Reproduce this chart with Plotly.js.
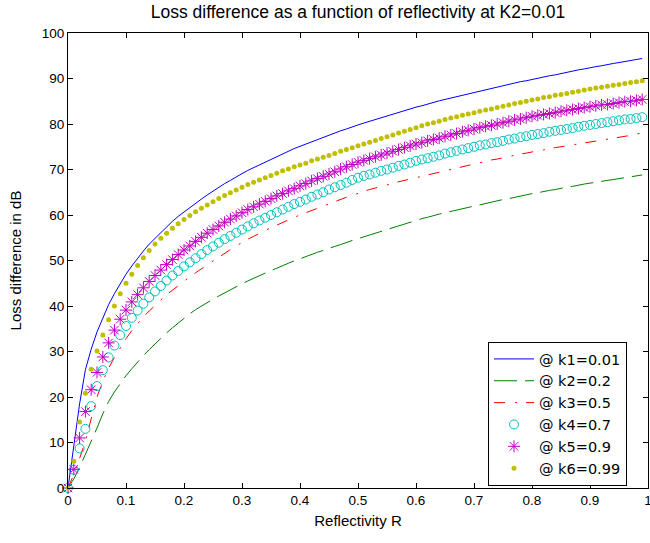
<!DOCTYPE html>
<html>
<head>
<meta charset="utf-8">
<script src="https://cdn.plot.ly/plotly-3.0.1.min.js"></script>
<style>
  html, body { margin: 0; padding: 0; background: #ffffff; }
  #chart { width: 650px; height: 543px; }
</style>
</head>
<body>
<div id="chart"></div>
<script>
// Reflectivity R (x values, step 0.01 as in the reference)
const reflectivity = [
  0.00,0.01,0.02,0.03,0.04,0.05,0.06,0.07,0.08,0.09,
  0.10,0.11,0.12,0.13,0.14,0.15,0.16,0.17,0.18,0.19,
  0.20,0.21,0.22,0.23,0.24,0.25,0.26,0.27,0.28,0.29,
  0.30,0.31,0.32,0.33,0.34,0.35,0.36,0.37,0.38,0.39,
  0.40,0.41,0.42,0.43,0.44,0.45,0.46,0.47,0.48,0.49,
  0.50,0.51,0.52,0.53,0.54,0.55,0.56,0.57,0.58,0.59,
  0.60,0.61,0.62,0.63,0.64,0.65,0.66,0.67,0.68,0.69,
  0.70,0.71,0.72,0.73,0.74,0.75,0.76,0.77,0.78,0.79,
  0.80,0.81,0.82,0.83,0.84,0.85,0.86,0.87,0.88,0.89,
  0.90,0.91,0.92,0.93,0.94,0.95,0.96,0.97,0.98,0.99
];

// Loss difference in dB
const lossK1 = [
  0,9.5,18.5,26.0,30.5,34.3,37.5,40.3,42.7,45.0,
  47.0,48.8,50.5,52.1,53.6,54.9,56.2,57.4,58.6,59.7,
  60.7,61.7,62.6,63.5,64.4,65.3,66.1,66.9,67.6,68.4,
  69.1,69.8,70.4,71.1,71.7,72.3,72.9,73.5,74.0,74.6,
  75.1,75.6,76.1,76.6,77.1,77.6,78.0,78.5,78.9,79.4,
  79.8,80.2,80.6,81.0,81.4,81.8,82.2,82.6,82.9,83.3,
  83.7,84.0,84.4,84.7,85.1,85.4,85.7,86.0,86.4,86.7,
  87.0,87.3,87.6,87.9,88.2,88.5,88.8,89.0,89.3,89.5,
  89.8,90.1,90.3,90.6,90.8,91.1,91.4,91.6,91.9,92.1,
  92.4,92.6,92.8,93.1,93.3,93.5,93.7,94.0,94.2,94.4
];
const lossK2 = [
  0,2.0,4.5,7.3,10.2,13.2,16.3,19.0,21.1,23.0,
  24.7,26.2,27.7,29.1,30.4,31.7,32.9,34.1,35.2,36.3,
  37.4,38.3,39.2,40.0,40.8,41.5,42.2,42.9,43.6,44.3,
  44.9,45.5,46.1,46.7,47.2,47.8,48.3,48.9,49.4,49.9,
  50.4,50.9,51.3,51.8,52.2,52.7,53.1,53.5,54.0,54.4,
  54.8,55.2,55.6,56.0,56.5,56.9,57.3,57.7,58.1,58.5,
  58.9,59.2,59.5,59.9,60.2,60.5,60.8,61.1,61.4,61.7,
  62.0,62.3,62.6,62.8,63.1,63.4,63.6,63.9,64.2,64.4,
  64.7,64.9,65.2,65.4,65.6,65.9,66.1,66.3,66.6,66.8,
  67.0,67.2,67.4,67.6,67.8,68.0,68.2,68.4,68.6,68.8
];
const lossK3 = [
  0,3.0,6.5,10.3,15.2,20.0,23.5,26.3,28.7,30.8,
  32.8,34.6,36.2,37.6,38.9,40.2,41.3,42.5,43.5,44.6,
  45.5,46.4,47.3,48.2,49.1,49.9,50.7,51.6,52.4,53.2,
  54.0,54.7,55.3,56.0,56.6,57.2,57.8,58.4,58.9,59.5,
  60.0,60.5,61.0,61.5,62.0,62.5,63.0,63.4,63.9,64.3,
  64.8,65.2,65.6,65.9,66.3,66.6,67.0,67.3,67.6,68.0,
  68.3,68.6,68.9,69.2,69.5,69.8,70.1,70.4,70.7,71.0,
  71.3,71.6,71.8,72.1,72.3,72.6,72.9,73.1,73.4,73.6,
  73.9,74.1,74.3,74.6,74.8,75.0,75.2,75.4,75.7,75.9,
  76.1,76.3,76.5,76.7,76.9,77.1,77.3,77.5,77.8,78.0
];
const lossK4 = [
  0,4.0,8.7,13.0,18.0,22.4,25.9,28.7,31.3,33.6,
  35.6,37.4,39.0,40.5,41.9,43.2,44.4,45.6,46.7,47.7,
  48.7,49.6,50.5,51.4,52.3,53.1,53.9,54.7,55.4,56.1,
  56.8,57.5,58.2,58.8,59.4,60.0,60.6,61.2,61.8,62.4,
  62.9,63.4,64.0,64.5,65.0,65.6,66.1,66.6,67.1,67.7,
  68.2,68.6,68.9,69.3,69.7,70.0,70.4,70.8,71.1,71.5,
  71.9,72.2,72.5,72.8,73.1,73.5,73.8,74.1,74.4,74.7,
  75.0,75.3,75.5,75.8,76.0,76.3,76.6,76.8,77.1,77.3,
  77.6,77.8,78.0,78.3,78.5,78.7,78.9,79.1,79.4,79.6,
  79.8,80.0,80.2,80.4,80.6,80.8,81.0,81.1,81.3,81.5
];
const lossK5 = [
  0,4.1,11.0,16.8,21.6,25.4,28.8,31.9,34.7,37.1,
  39.1,40.9,42.5,44.0,45.4,46.7,47.9,49.1,50.2,51.3,
  52.3,53.2,54.2,55.1,56.0,56.8,57.6,58.4,59.1,59.8,
  60.5,61.2,61.8,62.4,63.0,63.6,64.2,64.7,65.3,65.8,
  66.4,66.9,67.5,68.0,68.5,69.0,69.5,70.1,70.6,71.1,
  71.6,72.0,72.4,72.8,73.2,73.6,74.0,74.4,74.8,75.2,
  75.6,75.9,76.3,76.6,76.9,77.3,77.6,77.9,78.3,78.6,
  78.9,79.2,79.5,79.7,80.0,80.3,80.6,80.9,81.1,81.4,
  81.7,81.9,82.1,82.3,82.5,82.8,83.0,83.2,83.4,83.6,
  83.8,84.0,84.2,84.3,84.5,84.7,84.9,85.0,85.2,85.4
];
const lossK6 = [
  0,5.9,14.5,20.8,26.1,30.1,33.6,37.0,40.0,42.7,
  45.0,47.0,48.9,50.6,52.2,53.6,54.9,56.0,57.1,58.1,
  59.0,59.9,60.7,61.5,62.2,62.9,63.6,64.3,64.9,65.5,
  66.1,66.7,67.2,67.7,68.2,68.7,69.2,69.7,70.1,70.6,
  71.0,71.4,71.9,72.3,72.7,73.1,73.5,74.0,74.4,74.8,
  75.2,75.6,76.0,76.4,76.8,77.2,77.6,78.0,78.4,78.8,
  79.2,79.6,80.0,80.3,80.6,81.0,81.3,81.6,81.9,82.2,
  82.5,82.8,83.1,83.3,83.6,83.9,84.2,84.5,84.7,85.0,
  85.3,85.5,85.8,86.0,86.3,86.5,86.7,87.0,87.2,87.5,
  87.7,87.9,88.1,88.3,88.5,88.7,88.9,89.1,89.3,89.5
];

const seriesNames = ['@ k1=0.01', '@ k2=0.2', '@ k3=0.5', '@ k4=0.7', '@ k5=0.9', '@ k6=0.99'];
const titleText = 'Loss difference as a function of reflectivity at K2=0.01';
const xTitle = 'Reflectivity R';
const yTitle = 'Loss difference in dB';
const xTickVals = [0, 0.1, 0.2, 0.3, 0.4, 0.5, 0.6, 0.7, 0.8, 0.9, 1];
const xTickText = ['0', '0.1', '0.2', '0.3', '0.4', '0.5', '0.6', '0.7', '0.8', '0.9', '1'];
const yTickVals = [0, 10, 20, 30, 40, 50, 60, 70, 80, 90, 100];

const traces = [
  { x: reflectivity, y: lossK1, name: seriesNames[0], type: 'scatter', mode: 'lines',
    line: { color: '#0000FF', width: 1 } },
  { x: reflectivity, y: lossK2, name: seriesNames[1], type: 'scatter', mode: 'lines',
    line: { color: '#008000', width: 1, dash: '23px,8px' } },
  { x: reflectivity, y: lossK3, name: seriesNames[2], type: 'scatter', mode: 'lines',
    line: { color: '#FF0000', width: 1, dash: '11px,10px,2px,9px' } },
  { x: reflectivity, y: lossK4, name: seriesNames[3], type: 'scatter', mode: 'markers', cliponaxis: false,
    marker: { symbol: 'circle-open', size: 9, color: '#00BFBF', line: { width: 1, color: '#00BFBF' } } },
  { x: reflectivity, y: lossK5, name: seriesNames[4], type: 'scatter', mode: 'markers', cliponaxis: false,
    marker: { symbol: 'asterisk-open', size: 10, color: '#BF00BF', line: { width: 1, color: '#BF00BF' } } },
  { x: reflectivity, y: lossK6, name: seriesNames[5], type: 'scatter', mode: 'markers', cliponaxis: false,
    marker: { symbol: 'circle', size: 5, color: '#BFBF00' } }
];

const axisCommon = {
  ticks: 'inside', ticklen: 5, tickwidth: 1, tickcolor: '#000000',
  showline: true, linecolor: '#000000', linewidth: 1, mirror: 'ticks',
  showgrid: false, zeroline: false, ticklabeloverflow: 'allow',
  tickfont: { size: 13.5, color: '#000000' }
};

const layout = {
  width: 650, height: 543,
  margin: { l: 68, r: 2, t: 33, b: 55, pad: 0 },
  paper_bgcolor: '#ffffff', plot_bgcolor: '#ffffff',
  font: { family: 'Arial, "Liberation Sans", sans-serif', size: 13, color: '#000000' },
  title: { text: titleText, font: { size: 17.5, color: '#000000' },
           x: 0.5, xref: 'paper', y: 0.978, yref: 'container', yanchor: 'middle' },
  xaxis: Object.assign({}, axisCommon, {
    range: [0, 1], tickmode: 'array', tickvals: xTickVals, ticktext: xTickText,
    title: { text: xTitle, font: { size: 15 }, standoff: 8 }
  }),
  yaxis: Object.assign({}, axisCommon, {
    range: [0, 100], tickmode: 'array', tickvals: yTickVals,
    title: { text: yTitle, font: { size: 15 }, standoff: 16 }
  }),
  showlegend: true,
  legend: {
    x: 0.9638, xanchor: 'right', y: 0.3209, yanchor: 'top',
    bgcolor: '#ffffff', bordercolor: '#000000', borderwidth: 1,
    font: { family: '"DejaVu Sans", Verdana, sans-serif', size: 14.5, color: '#000000' },
    itemwidth: 40, tracegroupgap: 0, entrywidth: 102, entrywidthmode: 'pixels'
  }
};

Plotly.newPlot('chart', traces, layout, { displayModeBar: false, staticPlot: true });
</script>
</body>
</html>
